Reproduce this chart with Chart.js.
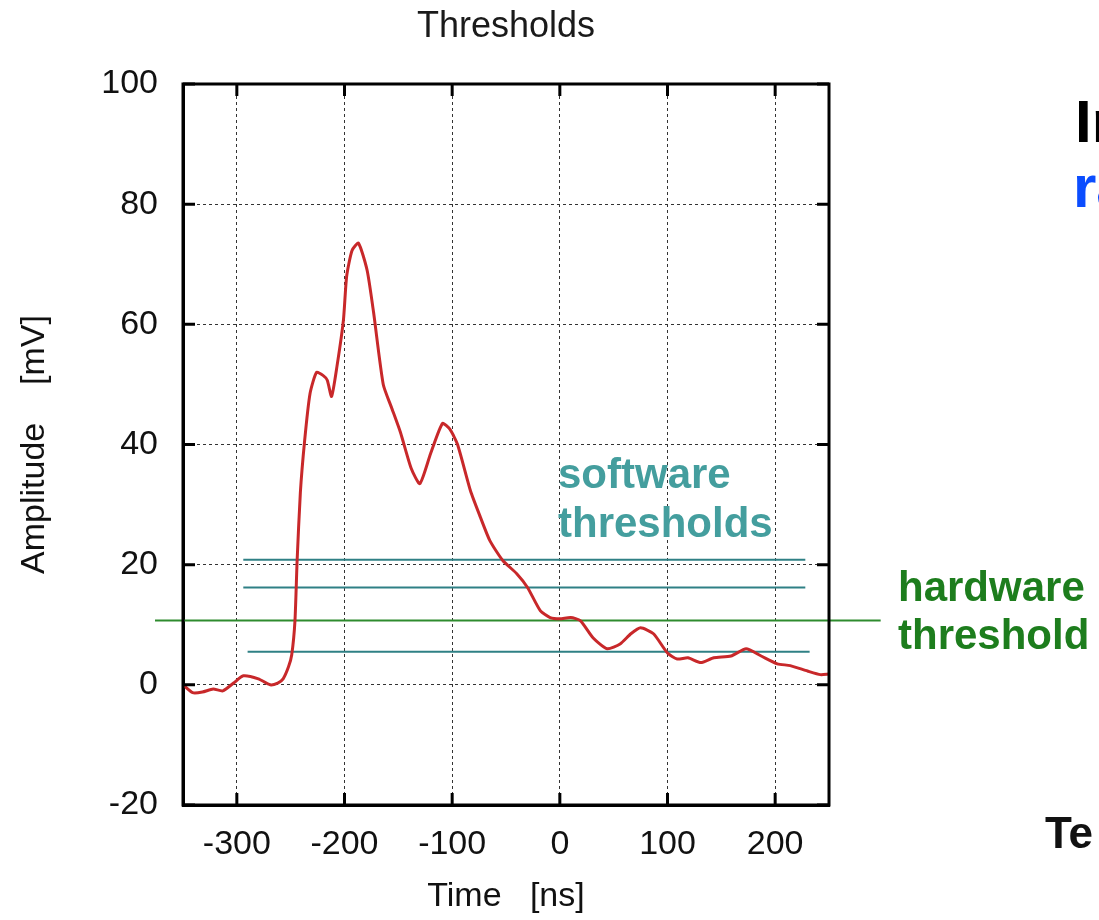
<!DOCTYPE html>
<html lang="en">
<head>
<meta charset="UTF-8">
<title>Thresholds</title>
<script src="https://cdn.jsdelivr.net/npm/chart.js"></script>
<style>
    body {margin: 0; background: #fff; overflow: hidden;}
    #wrap {position: relative; width: 1099px; height: 920px; overflow: hidden;}
    #myChart {position: absolute; left: 0; top: 0;}
    .note {position: absolute; font-family: "Liberation Sans", Arial, sans-serif; font-weight: bold; white-space: nowrap;}
</style>
<script>
    // signal trace
    const timeNs = [-350,-341,-332,-322,-313,-303,-294,-280,-269,-262,-257,-252,-249,-246,-244,-241,-237,-232,-226,-220,-216,-212,-207,-201,-198,-193,-187,-179,-173,-164,-156,-148,-138,-130,-120,-109,-102,-95,-83,-74,-65,-53,-40,-30,-18,-9,0,10,19,31,44,56,66,75,87,100,109,119,131,143,159,173,187,202,214,230,242,250];
    const amplitude = [0,-1.3,-1.2,-0.7,-1,0.3,1.5,1,0,0.3,1,3,5,10.7,20.7,32,40.7,48.5,52,51.5,50.7,48,53,60.7,68,72.3,73.5,69,62,50,46,42,36,33.5,38.5,43.5,42.5,40,32.3,28,24,20.7,18.5,16.2,12.3,11.2,11,11.2,10.7,7.8,6,6.8,8.5,9.5,8.5,5.3,4.3,4.5,3.7,4.5,4.8,6,4.8,3.5,3.2,2.3,1.7,1.8];

    // thresholds
    const softLevels = [20.8, 16.2, 5.5];
    const softStart = [-294, -294, -290];
    const softEnd = [228, 228, 232];
    const hardLevel = 10.7;
    const hardSpan = [-376, 298];

    // axes
    const xTicks = [-300, -200, -100, 0, 100, 200];
    const yTicks = [-20, 0, 20, 40, 60, 80, 100];
    const chartTitle = "Thresholds";
</script>
</head>
<body>
<div id="wrap">
    <canvas id="myChart" width="1099" height="920"></canvas>
    <div class="note" style="left:558px; top:449px; font-size:42px; line-height:49px; color:#449e9e;">software<br>thresholds</div>
    <div class="note" style="left:898px; top:563px; font-size:42px; line-height:48px; color:#1d7d1d;">hardware<br>threshold</div>
    <div class="note" style="left:1075px; top:92px; font-size:60px; line-height:60px; color:#000;">In</div>
    <div class="note" style="left:1073px; top:157px; font-size:60px; line-height:60px; color:#0b4dff;">ra</div>
    <div class="note" style="left:1045px; top:811px; font-size:44px; line-height:44px; color:#111;">Te</div>
</div>
<script>
    const FONT = "'Liberation Sans', Arial, sans-serif";

    let datasets = [];
    datasets.push({
        label: "signal",
        data: timeNs.map((t, i) => ({x: t, y: amplitude[i]})),
        borderColor: "#c8282a",
        borderWidth: 3,
        pointRadius: 0,
        tension: 0.2
    });
    softLevels.forEach((v, i) => {
        datasets.push({
            label: "software " + i,
            data: [{x: softStart[i], y: v}, {x: softEnd[i], y: v}],
            borderColor: "#2f8085",
            borderWidth: 2,
            pointRadius: 0
        });
    });
    datasets.push({
        label: "hardware",
        data: [{x: hardSpan[0], y: hardLevel}, {x: hardSpan[1], y: hardLevel}],
        borderColor: "#2e8b2e",
        borderWidth: 2,
        pointRadius: 0,
        clip: false
    });

    // frame, inward tick marks on all four sides, title over the plot
    const frame = {
        id: "frame",
        afterDatasetsDraw(chart) {
            const {ctx, chartArea: a, scales: {x, y}} = chart;
            ctx.save();
            ctx.strokeStyle = "#000";
            ctx.lineWidth = 3;
            ctx.strokeRect(a.left, a.top, a.right - a.left, a.bottom - a.top);
            ctx.beginPath();
            xTicks.forEach(t => {
                const px = x.getPixelForValue(t);
                ctx.moveTo(px, a.bottom); ctx.lineTo(px, a.bottom - 12);
                ctx.moveTo(px, a.top); ctx.lineTo(px, a.top + 12);
            });
            yTicks.forEach(v => {
                const py = y.getPixelForValue(v);
                ctx.moveTo(a.left, py); ctx.lineTo(a.left + 12, py);
                ctx.moveTo(a.right, py); ctx.lineTo(a.right - 12, py);
            });
            ctx.stroke();
            ctx.fillStyle = "#1a1a1a";
            ctx.font = "36px " + FONT;
            ctx.textAlign = "center";
            ctx.textBaseline = "middle";
            ctx.fillText(chartTitle, (a.left + a.right) / 2, 27);
            ctx.restore();
        }
    };

    new Chart(document.getElementById("myChart"), {
        type: "line",
        data: {datasets: datasets},
        options: {
            responsive: false,
            animation: false,
            devicePixelRatio: 1,
            layout: {padding: {left: 0, right: 270, top: 84, bottom: 0}},
            plugins: {
                legend: {display: false},
                tooltip: {enabled: false},
                title: {display: false}
            },
            scales: {
                x: {
                    type: "linear",
                    min: -350,
                    max: 250,
                    afterBuildTicks: s => { s.ticks = xTicks.map(v => ({value: v})); },
                    afterFit: s => { s.height = 115; },
                    ticks: {color: "#111", font: {family: FONT, size: 34}, padding: 19, maxRotation: 0},
                    grid: {color: "#333", lineWidth: 1, drawTicks: false},
                    border: {display: true, color: "#000", width: 3, dash: [3, 3]},
                    title: {display: true, text: "Time   [ns]", color: "#111", font: {family: FONT, size: 34}, padding: {top: 0, bottom: 3}}
                },
                y: {
                    min: -20,
                    max: 100,
                    afterBuildTicks: s => { s.ticks = yTicks.map(v => ({value: v})); },
                    afterFit: s => { s.width = 183; },
                    ticks: {color: "#111", font: {family: FONT, size: 34}, padding: 25},
                    grid: {color: "#333", lineWidth: 1, drawTicks: false},
                    border: {display: true, color: "#000", width: 3, dash: [3, 3]},
                    title: {display: true, text: "Amplitude    [mV]", color: "#111", font: {family: FONT, size: 34}, padding: {top: 14, bottom: 0}}
                }
            }
        },
        plugins: [frame]
    });
</script>
</body>
</html>
